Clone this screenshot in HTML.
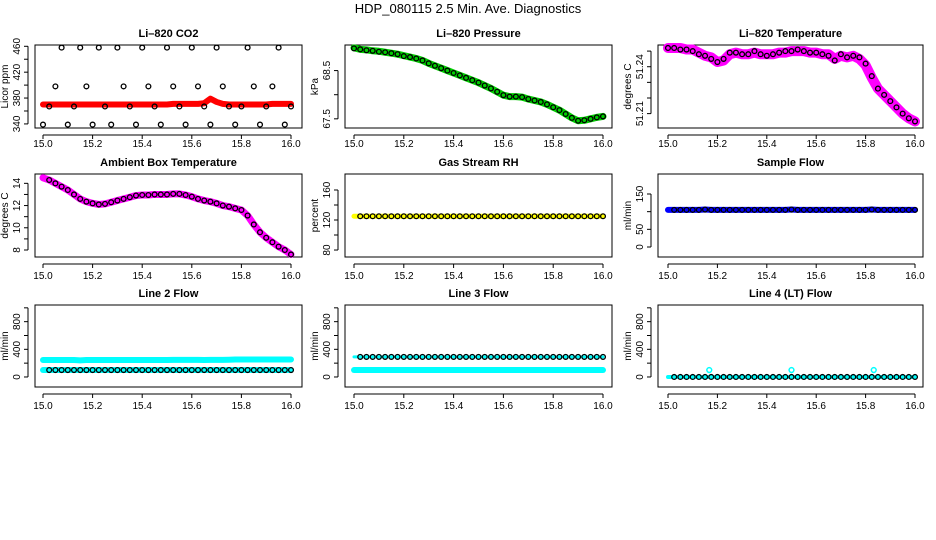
<!DOCTYPE html>
<html><head><meta charset="utf-8"><style>
body{margin:0;background:#fff}
svg{display:block;font-family:"Liberation Sans",sans-serif}
</style></head><body>
<svg id="c" width="936" height="540">
<text x="468" y="13" text-anchor="middle" font-size="13">HDP_080115  2.5 Min. Ave. Diagnostics</text>
</svg>
<script>
const times=[15.000,15.025,15.050,15.075,15.100,15.125,15.150,15.175,15.200,15.225,15.250,15.275,15.300,15.325,15.350,15.375,15.400,15.425,15.450,15.475,15.500,15.525,15.550,15.575,15.600,15.625,15.650,15.675,15.700,15.725,15.750,15.775,15.800,15.825,15.850,15.875,15.900,15.925,15.950,15.975,16.000];
const xTicks=[15.0,15.2,15.4,15.6,15.8,16.0];
const xTickLabels=["15.0","15.2","15.4","15.6","15.8","16.0"];
const co2Band=[370,370,370,370,370,370,370,370,370,370,370,370,370,370,370,370,370,370,370,370,370,371,371,371,371,371,372,379,374,371,370,370,370,370,370,370,370,371,371,371,371];
const co2Pts=[339,367,398,458,339,367,458,398,339,458,367,339,458,398,367,339,458,398,367,339,458,398,367,339,458,398,367,339,458,398,367,339,367,458,398,339,367,398,458,339,367];
const presBand=[68.97,68.94,68.93,68.91,68.90,68.88,68.86,68.84,68.81,68.78,68.75,68.71,68.65,68.60,68.55,68.50,68.45,68.40,68.35,68.30,68.25,68.19,68.13,68.06,67.99,67.96,67.96,67.95,67.91,67.88,67.85,67.80,67.74,67.68,67.60,67.52,67.46,67.47,67.50,67.53,67.55];
const presPts=[68.96,68.94,68.92,68.91,68.89,68.88,68.86,68.84,68.80,68.78,68.75,68.71,68.65,68.60,68.55,68.50,68.45,68.40,68.35,68.30,68.25,68.19,68.13,68.06,67.99,67.96,67.96,67.95,67.91,67.88,67.85,67.80,67.74,67.68,67.60,67.52,67.46,67.47,67.50,67.53,67.55];
const ltempBand=[51.252,51.252,51.252,51.251,51.251,51.249,51.247,51.246,51.243,51.244,51.248,51.249,51.248,51.248,51.249,51.248,51.248,51.248,51.249,51.249,51.250,51.250,51.250,51.249,51.249,51.248,51.248,51.245,51.247,51.246,51.247,51.245,51.241,51.233,51.226,51.222,51.218,51.214,51.210,51.207,51.205];
const ltempPts=[51.252,51.252,51.251,51.251,51.250,51.248,51.247,51.245,51.243,51.245,51.249,51.249,51.248,51.248,51.250,51.248,51.247,51.248,51.249,51.250,51.250,51.251,51.250,51.249,51.249,51.248,51.247,51.244,51.248,51.246,51.247,51.246,51.242,51.234,51.226,51.222,51.218,51.214,51.210,51.207,51.205];
const ambBand=[14.5,14.3,14.0,13.7,13.4,13.0,12.6,12.35,12.2,12.1,12.15,12.3,12.45,12.6,12.75,12.9,12.95,12.95,13.0,13.0,13.0,13.05,13.05,12.95,12.8,12.6,12.45,12.35,12.2,12.0,11.9,11.75,11.6,11.1,10.3,9.6,9.1,8.7,8.3,8.0,7.6];
const rhBand=[125,125,125,125,125,125,125,125,125,125,125,125,125,125,125,125,125,125,125,125,125,125,125,125,125,125,125,125,125,125,125,125,125,125,125,125,125,125,125,125,125];
const sampleBand=[105,105,105,105,105,105,106,105,105,105,105,105,105,105,105,105,105,105,105,105,106,105,105,105,105,105,105,105,105,105,105,105,105,106,105,105,105,105,105,105,105];
const line2Band=[245,245,245,245,245,245,240,245,245,245,245,245,245,245,245,245,245,245,245,245,245,248,248,248,248,248,245,248,248,248,250,252,252,252,252,252,252,252,252,252,252];
const line2Pts=[100,100,100,100,100,100,100,100,100,100,100,100,100,100,100,100,100,100,100,100,100,100,100,100,100,100,100,100,100,100,100,100,100,100,100,100,100,100,100,100,100];
const line3Band=[100,100,100,100,100,100,100,100,100,100,100,100,100,100,100,100,100,100,100,100,100,100,100,100,100,100,100,100,100,100,100,100,100,100,100,100,100,100,100,100,100];
const line3Pts=[290,290,290,290,290,290,290,290,290,290,290,290,290,290,290,290,290,290,290,290,290,290,290,290,290,290,290,290,290,290,290,290,290,290,290,290,290,290,290,290,290];
const line4Band=[0,0,0,0,0,0,0,0,0,0,0,0,0,0,0,0,0,0,0,0,0,0,0,0,0,0,0,0,0,0,0,0,0,0,0,0,0,0,0,0,0];
const line4Spikes=[15.167,15.5,15.833];
const line4SpikeVals=[100,100,100];

const NS="http://www.w3.org/2000/svg";
const svg=document.getElementById('c');
function mk(tag,attrs,parent){const e=document.createElementNS(NS,tag);for(const k in attrs)e.setAttribute(k,attrs[k]);(parent||svg).appendChild(e);return e;}
const cols=[{l:35,r:302,x0:43,x1:291},{l:345,r:612,x0:354,x1:603},{l:658,r:923,x0:668,x1:915}];
const rows=[{t:45,b:128,ty:33,lab:143},{t:174,b:257,ty:162,lab:275},{t:305,b:387,ty:293,lab:405}];

function panel(name,title,ci,ri,ymin,ymax,yTicks,yLabels,ytitle){
  const c=cols[ci],r=rows[ri];
  const g=mk('g',{});
  
  
  const sx=v=>c.x0+(v-15)*(c.x1-c.x0);
  const sy=v=>r.b-(v-ymin)/(ymax-ymin)*(r.b-r.t);
  const box=mk('rect',{x:c.l,y:r.t,width:c.r-c.l,height:r.b-r.t,fill:'none',stroke:'#000','stroke-width':1},g);
  
  const tt=mk('text',{x:(c.l+c.r)/2,y:r.ty+4,'text-anchor':'middle','font-size':11,'font-weight':'bold'},g);
  tt.textContent=title;
  
  // x axis
  const xa=mk('g',{},g);
  
  mk('line',{x1:sx(15),x2:sx(16),y1:r.b+7,y2:r.b+7,stroke:'#000'},xa);
  xTicks.forEach((t,i)=>{mk('line',{x1:sx(t),x2:sx(t),y1:r.b+7,y2:r.b+11,stroke:'#000'},xa);
    const tl=mk('text',{x:sx(t),y:r.lab+4,'text-anchor':'middle','font-size':10},xa);tl.textContent=xTickLabels[i];});
  // y axis
  const ya=mk('g',{},g);
  
  const ax=c.l-7;
  mk('line',{x1:ax,x2:ax,y1:sy(yTicks[0]),y2:sy(yTicks[yTicks.length-1]),stroke:'#000'},ya);
  yTicks.forEach(t=>mk('line',{x1:ax-4,x2:ax,y1:sy(t),y2:sy(t),stroke:'#000'},ya));
  yLabels.forEach(t=>{const y=sy(t),x=ax-8;const tl=mk('text',{x:x,y:y,'text-anchor':'middle','font-size':10,transform:`rotate(-90 ${x} ${y})`},ya);tl.textContent=String(t);});
  const yt=mk('text',{x:c.l-27,y:(r.t+r.b)/2,'text-anchor':'middle','font-size':10,transform:`rotate(-90 ${c.l-27} ${(r.t+r.b)/2})`},g);
  yt.textContent=ytitle;
  
  return {g,sx,sy};
}
function band(p,vals,color,w){
  const pts=vals.map((v,i)=>p.sx(times[i])+','+p.sy(v)).join(' ');
  const pl=mk('polyline',{points:pts,fill:'none',stroke:color,'stroke-width':w,'stroke-linecap':'round','stroke-linejoin':'round'},p.g);
  
}
function circles(p,vals,color,skipFirst){
  const gg=mk('g',{},p.g);
  
  vals.forEach((v,i)=>{if(skipFirst&&i===0)return;mk('circle',{cx:p.sx(times[i]),cy:p.sy(v),r:2.4,fill:'none',stroke:color,'stroke-width':1.3},gg);});
}

let p;
p=panel('co2-panel','Li\u2013820 CO2',0,0,333.7,462,[340,360,380,400,420,440,460],[340,380,420,460],'Licor ppm');
band(p,co2Band,'#ff0000',6);circles(p,co2Pts,'#000',false);
p=panel('pressure-panel','Li\u2013820 Pressure',1,0,67.31,69.03,[67.5,68,68.5],[67.5,68.5],'kPa');
band(p,presBand,'#00cc00',7);circles(p,presPts,'#000',false);
p=panel('li-temp-panel','Li\u2013820 Temperature',2,0,51.2008,51.2539,[51.21,51.22,51.23,51.24,51.25],[51.21,51.24],'degrees C');
band(p,ltempBand,'#ff00ff',10);circles(p,ltempPts,'#000',false);
p=panel('ambient-temp-panel','Ambient Box Temperature',0,1,7.37,14.84,[8,9,10,11,12,13,14],[8,10,12,14],'degrees C');
band(p,ambBand,'#ff00ff',7);circles(p,ambBand,'#000',true);
p=panel('rh-panel','Gas Stream RH',1,1,70.7,181.3,[80,100,120,140,160],[80,120,160],'percent');
band(p,rhBand,'#ffff00',5);circles(p,rhBand,'#000',true);
p=panel('sample-flow-panel','Sample Flow',2,1,-28.3,206.6,[0,50,100,150],[0,50,150],'ml/min');
band(p,sampleBand,'#0000ff',6);circles(p,sampleBand,'#000',true);
p=panel('line2-flow-panel','Line 2 Flow',0,2,-145,1041,[0,200,400,600,800,1000],[0,400,800],'ml/min');
band(p,line2Band,'#00ffff',6);band(p,line2Pts,'#00ffff',6);circles(p,line2Pts,'#000',true);
p=panel('line3-flow-panel','Line 3 Flow',1,2,-145,1041,[0,200,400,600,800,1000],[0,400,800],'ml/min');
band(p,line3Band,'#00ffff',6);band(p,line3Pts,'#00ffff',3);circles(p,line3Pts,'#000',true);
p=panel('line4-flow-panel','Line 4 (LT) Flow',2,2,-145,1041,[0,200,400,600,800,1000],[0,400,800],'ml/min');
band(p,line4Band,'#00ffff',4);circles(p,line4Band,'#000',true);
line4Spikes.forEach((t,i)=>{const s=mk('circle',{cx:p.sx(t),cy:p.sy(line4SpikeVals[i]),r:2.4,fill:'none',stroke:'#00ffff','stroke-width':1.5},p.g);

});
</script>
</body></html>
